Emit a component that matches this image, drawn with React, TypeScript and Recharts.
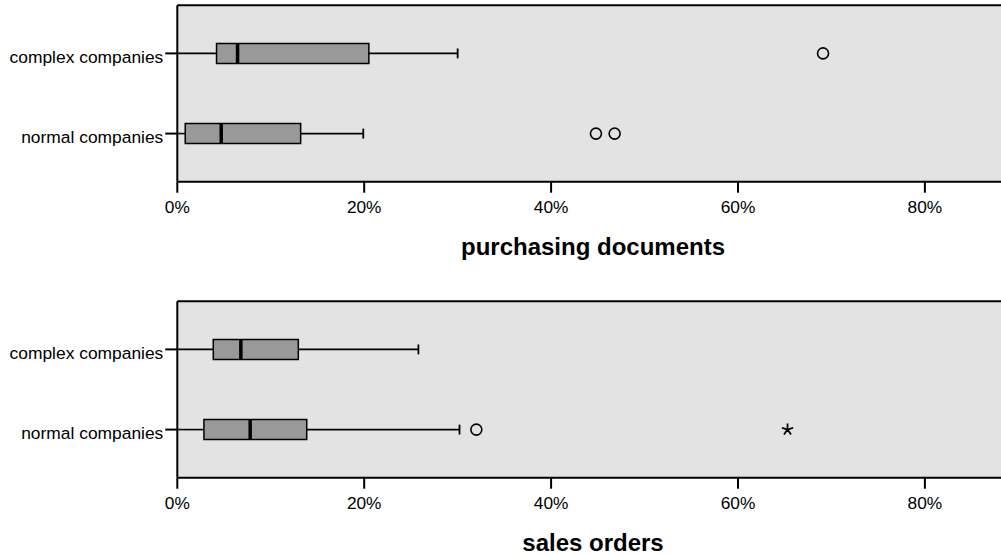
import {
  CartesianGrid,
  ReferenceArea,
  ReferenceLine,
  Scatter,
  ScatterChart,
  XAxis,
  YAxis,
} from "recharts";

const CATEGORIES = ["complex companies", "normal companies"];
const CATEGORY_Y = [0.6, 1.6];
const X_TICKS = [0, 20, 40, 60, 80];

// purchasing documents (percent)
const PURCHASING_LOW = [0, 0];
const PURCHASING_Q1 = [4.2, 0.85];
const PURCHASING_MEDIAN = [6.45, 4.7];
const PURCHASING_Q3 = [20.5, 13.2];
const PURCHASING_HIGH = [30.0, 19.9];
const PURCHASING_OUTLIERS = [
  { cat: 0, value: 69.1 },
  { cat: 1, value: 44.8 },
  { cat: 1, value: 46.8 },
];
const PURCHASING_EXTREMES: { cat: number; value: number }[] = [];

// sales orders (percent)
const SALES_LOW = [0, 0];
const SALES_Q1 = [3.85, 2.85];
const SALES_MEDIAN = [6.8, 7.8];
const SALES_Q3 = [12.95, 13.85];
const SALES_HIGH = [25.8, 30.2];
const SALES_OUTLIERS = [{ cat: 1, value: 32.0 }];
const SALES_EXTREMES = [{ cat: 1, value: 65.3 }];

const X_MAX = 89;
const Y_MAX = 2.2;
const CHART_W = 1009;
const CHART_H = 230;
const BOX_HALF = 0.125;
const CAP_HALF = 0.062;
const FONT = '"Liberation Sans", Arial, sans-serif';

function OutlierCircle(props: any) {
  return (
    <circle cx={props.cx} cy={props.cy} r={5.5} fill="none" stroke="#000" strokeWidth={1.6} />
  );
}

function ExtremeStar(props: any) {
  const { cx, cy } = props;
  const arms = [0, 1, 2, 3, 4].map((i) => {
    const a = ((-90 + i * 72) * Math.PI) / 180;
    return `M${cx},${cy}L${cx + 6 * Math.cos(a)},${cy + 6 * Math.sin(a)}`;
  });
  return <path d={arms.join("")} stroke="#000" strokeWidth={1.8} fill="none" />;
}

type PanelProps = {
  title: string;
  top: number;
  low: number[];
  q1: number[];
  median: number[];
  q3: number[];
  high: number[];
  outliers: { cat: number; value: number }[];
  extremes: { cat: number; value: number }[];
};

function BoxPanel({ title, top, low, q1, median, q3, high, outliers, extremes }: PanelProps) {
  const outlierPts = outliers.map((o) => ({ x: o.value, y: CATEGORY_Y[o.cat] }));
  const extremePts = extremes.map((o) => ({ x: o.value, y: CATEGORY_Y[o.cat] }));

  return (
    <div style={{ position: "absolute", left: 0, top, width: CHART_W, height: 265 }}>
      <ScatterChart
        width={CHART_W}
        height={CHART_H}
        margin={{ top: 5.3, right: 0, bottom: 0, left: 0 }}
      >
        <CartesianGrid fill="#e3e3e3" stroke="none" horizontal={false} vertical={false} />
        <XAxis
          type="number"
          dataKey="x"
          domain={[0, X_MAX]}
          ticks={X_TICKS}
          tickFormatter={(v) => `${v}%`}
          height={48.3}
          tickSize={11}
          tickMargin={8}
          tick={{ fill: "#000", fontSize: 17.3 }}
          axisLine={{ stroke: "#000", strokeWidth: 2 }}
          tickLine={{ stroke: "#000", strokeWidth: 2 }}
        />
        <YAxis
          type="number"
          dataKey="y"
          domain={[0, Y_MAX]}
          reversed
          ticks={CATEGORY_Y}
          tickFormatter={(v) => CATEGORIES[CATEGORY_Y.indexOf(v)]}
          width={177.3}
          tickSize={12}
          tickMargin={2}
          tick={{ fill: "#000", fontSize: 17.4, dy: 3 }}
          axisLine={{ stroke: "#000", strokeWidth: 2 }}
          tickLine={{ stroke: "#000", strokeWidth: 2 }}
        />
        <ReferenceLine y={0} stroke="#000" strokeWidth={2} ifOverflow="visible" />
        {CATEGORY_Y.map((y, i) => (
          <ReferenceLine
            key={`wl${i}`}
            segment={[
              { x: low[i], y },
              { x: q1[i], y },
            ]}
            stroke="#000"
            strokeWidth={1.6}
          />
        ))}
        {CATEGORY_Y.map((y, i) => (
          <ReferenceLine
            key={`wh${i}`}
            segment={[
              { x: q3[i], y },
              { x: high[i], y },
            ]}
            stroke="#000"
            strokeWidth={1.6}
          />
        ))}
        {CATEGORY_Y.map((y, i) => (
          <ReferenceLine
            key={`cap${i}`}
            segment={[
              { x: high[i], y: y - CAP_HALF },
              { x: high[i], y: y + CAP_HALF },
            ]}
            stroke="#000"
            strokeWidth={1.8}
          />
        ))}
        {CATEGORY_Y.map((y, i) => (
          <ReferenceArea
            key={`box${i}`}
            x1={q1[i]}
            x2={q3[i]}
            y1={y - BOX_HALF}
            y2={y + BOX_HALF}
            fill="#999999"
            fillOpacity={1}
            stroke="#000"
            strokeWidth={1.5}
          />
        ))}
        {CATEGORY_Y.map((y, i) => (
          <ReferenceLine
            key={`med${i}`}
            segment={[
              { x: median[i], y: y - BOX_HALF },
              { x: median[i], y: y + BOX_HALF },
            ]}
            stroke="#000"
            strokeWidth={3.5}
          />
        ))}
        <Scatter data={outlierPts} shape={OutlierCircle} isAnimationActive={false} />
        <Scatter data={extremePts} shape={ExtremeStar} isAnimationActive={false} />
      </ScatterChart>
      <div
        style={{
          position: "absolute",
          left: 177,
          width: 832,
          top: 233,
          textAlign: "center",
          fontSize: 24,
          fontWeight: "bold",
          lineHeight: "normal",
        }}
      >
        {title}
      </div>
    </div>
  );
}

export default function App() {
  return (
    <div
      style={{
        position: "absolute",
        left: 0,
        top: 0,
        width: 1001,
        height: 555,
        overflow: "hidden",
        background: "#fff",
        fontFamily: FONT,
        color: "#000",
      }}
    >
      <BoxPanel
        title="purchasing documents"
        top={0}
        low={PURCHASING_LOW}
        q1={PURCHASING_Q1}
        median={PURCHASING_MEDIAN}
        q3={PURCHASING_Q3}
        high={PURCHASING_HIGH}
        outliers={PURCHASING_OUTLIERS}
        extremes={PURCHASING_EXTREMES}
      />
      <BoxPanel
        title="sales orders"
        top={295.7}
        low={SALES_LOW}
        q1={SALES_Q1}
        median={SALES_MEDIAN}
        q3={SALES_Q3}
        high={SALES_HIGH}
        outliers={SALES_OUTLIERS}
        extremes={SALES_EXTREMES}
      />
    </div>
  );
}
